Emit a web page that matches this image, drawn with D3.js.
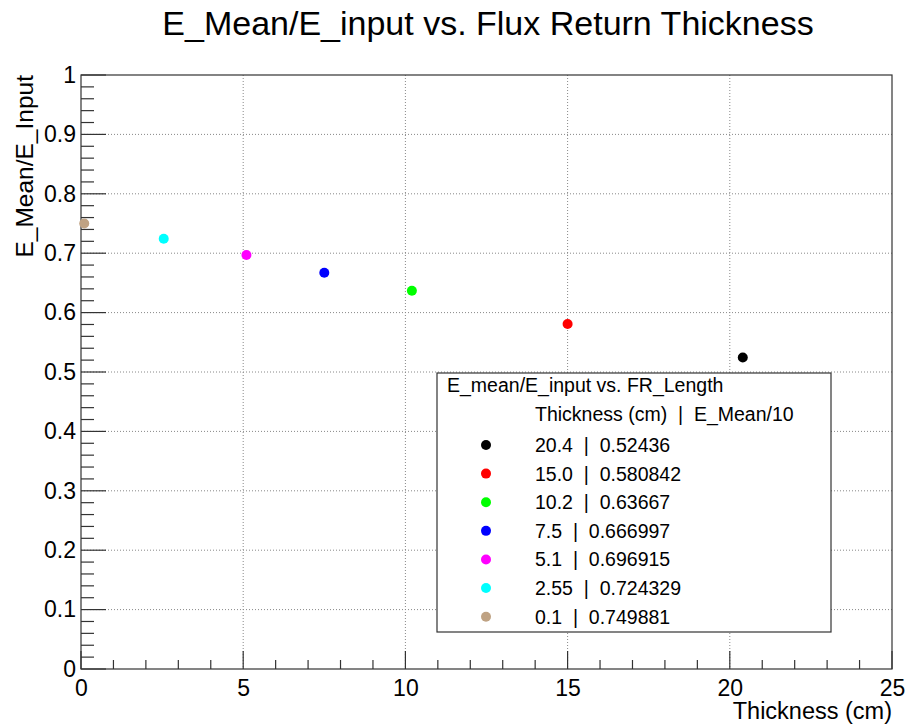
<!DOCTYPE html>
<html><head><meta charset="utf-8">
<script src="https://cdn.jsdelivr.net/npm/d3@7"></script>
<style>body{margin:0;background:#fff}svg{display:block;font-family:"Liberation Sans",Arial,sans-serif}</style>
</head><body><svg id="c" width="908" height="727"></svg>
<script>
const thickness = [20.4, 15.0, 10.2, 7.5, 5.1, 2.55, 0.1];
const eMean = [0.52436, 0.580842, 0.63667, 0.666997, 0.696915, 0.724329, 0.749881];
const labels = ["20.4  |  0.52436","15.0  |  0.580842","10.2  |  0.63667","7.5  |  0.666997","5.1  |  0.696915","2.55  |  0.724329","0.1  |  0.749881"];
const colors = ["#000000","#ff0000","#00ff00","#0000ff","#ff00ff","#00ffff","#bfa283"];
const xTicks = [0,5,10,15,20,25];
const yTicks = [0,0.1,0.2,0.3,0.4,0.5,0.6,0.7,0.8,0.9,1];

const svg = d3.select("#c");
const L=81,R=892,T=75,B=669;
const x = d3.scaleLinear().domain([0,25]).range([L,R]);
const y = d3.scaleLinear().domain([0,1]).range([B,T]);

// grid
const g = svg.append("g");
g.selectAll(".gx").data(xTicks.slice(1,-1)).join("line")
 .attr("x1",d=>x(d)).attr("x2",d=>x(d)).attr("y1",T).attr("y2",B)
 .attr("stroke","#888").attr("stroke-dasharray","1,2").attr("stroke-width",1);
g.selectAll(".gy").data(yTicks.slice(1,-1)).join("line")
 .attr("y1",d=>y(d)).attr("y2",d=>y(d)).attr("x1",L).attr("x2",R)
 .attr("stroke","#888").attr("stroke-dasharray","1,2").attr("stroke-width",1);

// frame
svg.append("rect").attr("x",L).attr("y",T).attr("width",R-L).attr("height",B-T)
 .attr("fill","none").attr("stroke","#333").attr("stroke-width",1.2);

// x axis
const xAxis = d3.axisBottom(x).tickValues(xTicks).tickSize(0).tickPadding(5).tickFormat(d3.format("d"));
const xa = svg.append("g").attr("transform",`translate(0,${B})`).call(xAxis);
xa.select(".domain").remove();
xa.selectAll("text").attr("font-size",23).attr("fill","#000").attr("font-family","Liberation Sans, Arial, sans-serif").attr("dy","0.95em");
svg.append("g").selectAll("line").data(d3.range(0,26)).join("line")
 .attr("x1",d=>x(d)).attr("x2",d=>x(d)).attr("y1",B)
 .attr("y2",d=>B-(d%5===0?18:9)).attr("stroke","#333").attr("stroke-width",1.2);

// y axis
const yAxis = d3.axisLeft(y).tickValues(yTicks).tickSize(0).tickPadding(5).tickFormat(d=>d3.format("")(+d.toFixed(1)));
const ya = svg.append("g").attr("transform",`translate(${L},0)`).call(yAxis);
ya.select(".domain").remove();
ya.selectAll("text").attr("font-size",23).attr("fill","#000").attr("font-family","Liberation Sans, Arial, sans-serif");
svg.append("g").selectAll("line").data(d3.range(0,51)).join("line")
 .attr("y1",i=>y(i/50)).attr("y2",i=>y(i/50)).attr("x1",L)
 .attr("x2",i=>L+(i%5===0?25:13)).attr("stroke","#333").attr("stroke-width",1.2);

// points
svg.append("g").selectAll("circle").data(thickness).join("circle")
 .attr("cx",(d)=>x(d)).attr("cy",(d,i)=>y(eMean[i])).attr("r",5)
 .attr("fill",(d,i)=>colors[i]);

// titles
svg.append("text").attr("x",488).attr("y",35).attr("text-anchor","middle")
 .attr("font-size",34).text("E_Mean/E_input vs. Flux Return Thickness");
svg.append("text").attr("transform","translate(33,75) rotate(-90)").attr("text-anchor","end")
 .attr("font-size",24.5).text("E_Mean/E_Input");
svg.append("text").attr("x",R).attr("y",719).attr("text-anchor","end")
 .attr("font-size",23.5).text("Thickness (cm)");

// legend
const lg = svg.append("g");
lg.append("rect").attr("x",437).attr("y",373).attr("width",394).attr("height",259)
 .attr("fill","#fff").attr("stroke","#333").attr("stroke-width",1.2);
lg.append("text").attr("x",447).attr("y",392).attr("font-size",19.5).text("E_mean/E_input vs. FR_Length");
lg.append("text").attr("x",535).attr("y",421).attr("font-size",19.5).style("white-space","pre").text("Thickness (cm)  |  E_Mean/10");
const ly = d3.scaleLinear().domain([0,6]).range([445,616.7]);
lg.selectAll("circle").data(labels).join("circle")
 .attr("cx",486).attr("cy",(d,i)=>ly(i)).attr("r",5).attr("fill",(d,i)=>colors[i]);
lg.selectAll(".lt").data(labels).join("text")
 .attr("x",535).attr("y",(d,i)=>ly(i)).attr("dy","0.36em").attr("font-size",19.5)
 .style("white-space","pre").text(d=>d);
</script></body></html>
